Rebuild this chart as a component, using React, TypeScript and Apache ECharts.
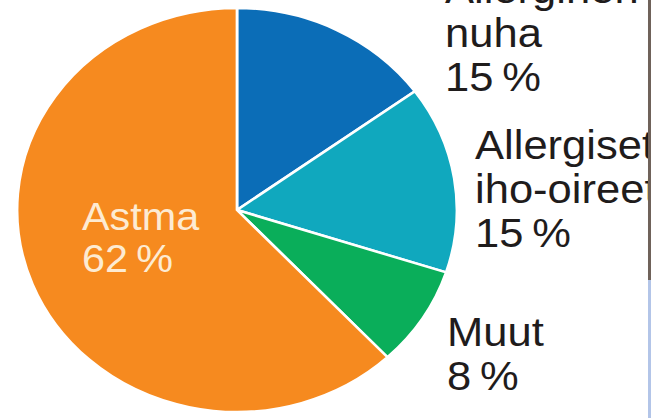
import React, { useEffect, useRef } from "react";
import * as echarts from "echarts";

const categories = ["Allerginen\nnuha", "Allergiset\niho-oireet", "Muut", "Astma"];
const values = [15, 15, 8, 62];
const colors = ["#0b6db7", "#10a8be", "#0aae5a", "#f68a1f"];

const SX = 651 / 598;
// label anchor positions in screen pixels (left, top of first line box)
const labelAnchors = [
  { x: 445, y: -33 },
  { x: 475, y: 123 },
  { x: 447, y: 310 },
  { x: 82, y: 196 },
];

export default function App() {
  const ref = useRef<HTMLDivElement>(null);
  useEffect(() => {
    const chart = echarts.init(ref.current!, null, { renderer: "svg" });
    chart.setOption({
      animation: false,
      backgroundColor: "#ffffff",
      graphic: [
        { type: "rect", shape: { x: 648 / SX, y: 0, width: 3 / SX, height: 280 }, style: { fill: "#6f625a" }, z: 100 },
        { type: "rect", shape: { x: 648 / SX, y: 280, width: 3 / SX, height: 138 }, style: { fill: "#b3c5e8" }, z: 100 },
      ],
      series: [
        {
          type: "pie",
          center: [237 / SX, 210],
          radius: 202,
          startAngle: 90,
          clockwise: true,
          avoidLabelOverlap: false,
          itemStyle: { borderColor: "#ffffff", borderWidth: 2.5 },
          emphasis: { disabled: true },
          labelLine: { show: false },
          label: {
            show: true,
            position: "outside",
            formatter: "{b}\n{c}\u2009%",
            fontFamily: "Liberation Sans",
            fontSize: 40,
            lineHeight: 44,
            color: "#1f1c1c",
            overflow: "none",
          },
          labelLayout: (params: any) => {
            const a = labelAnchors[params.dataIndex];
            return { x: a.x / SX, y: a.y, align: "left", verticalAlign: "top" };
          },
          data: categories.map((name, i) => ({
            name,
            value: values[i],
            itemStyle: { color: colors[i] },
            label: i === 3 ? { color: "#fdebd2", fontSize: 38, lineHeight: 42 } : undefined,
          })),
        },
      ],
    });
    return () => chart.dispose();
  }, []);
  return (
    <div
      ref={ref}
      style={{
        position: "absolute",
        left: 0,
        top: 0,
        width: 598,
        height: 418,
        transform: `scaleX(${SX})`,
        transformOrigin: "0 0",
      }}
    />
  );
}
